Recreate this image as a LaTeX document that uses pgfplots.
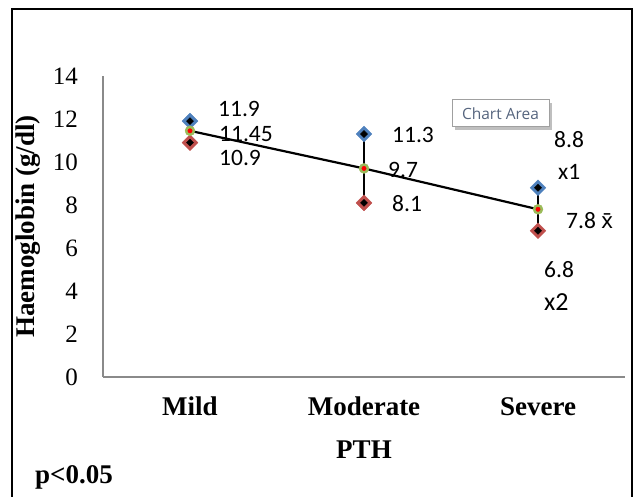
\documentclass[border=0pt]{standalone}
\usepackage{fontspec}
\setmainfont{Liberation Serif}
\newfontfamily\calib{Carlito}
\newfontfamily\segoe{Open Sans}
\newfontfamily\notos{Noto Sans}
\usepackage{pgfplots}
\pgfplotsset{compat=1.18}
\definecolor{xblue}{HTML}{4F81BD}
\definecolor{xred}{HTML}{C0504D}
\definecolor{xgreen}{HTML}{9BBB59}
\definecolor{axgray}{HTML}{8A8A8A}
\definecolor{tipgray}{HTML}{A0A0A0}
\definecolor{tiptext}{HTML}{56657E}
\tikzset{lab/.style={anchor=west, inner sep=0pt, font=\calib\fontsize{23.5}{23.5}\selectfont}}
\begin{document}
\begin{tikzpicture}[x=1pt,y=1pt]
\useasboundingbox (0,0) rectangle (635,497);
% outer chart frame
\draw[black, line width=2.5pt] (12,-5) -- (12,488) -- (632,488) -- (632,-5);
\begin{axis}[
  at={(103pt,120pt)}, anchor=south west,
  scale only axis, width=522pt, height=301pt,
  xmin=-0.5, xmax=2.5, ymin=0, ymax=14,
  xtick={0,1,2}, xticklabels={Mild,Moderate,Severe},
  ytick={0,2,...,14},
  axis lines*=left,
  axis line style={-, draw=axgray, line width=1.6pt},
  major tick length=0pt,
  /pgf/number format/assume math mode=true,
  xticklabel style={font=\fontsize{27}{27}\selectfont\bfseries, anchor=base, yshift=-39pt, inner sep=0pt},
  yticklabel style={font=\fontsize{25}{25}\selectfont, anchor=east, xshift=-25pt, inner sep=0pt},
  xlabel={PTH},
  xlabel style={font=\fontsize{27}{27}\selectfont\bfseries, at={(axis description cs:0.5,-0.2425)}, anchor=center, inner sep=0pt},
  ylabel={Haemoglobin (g/dl)},
  ylabel style={font=\fontsize{27}{27}\selectfont\bfseries, at={(axis description cs:-0.1437,0.5)}, anchor=center, inner sep=0pt},
  clip=false,
]
% high-low lines
\addplot[black, line width=2pt] coordinates {(0,11.9) (0,10.9)};
\addplot[black, line width=2pt] coordinates {(1,11.3) (1,8.1)};
\addplot[black, line width=2pt] coordinates {(2,8.8) (2,6.8)};
% mean line
\addplot[black, line width=2.2pt] coordinates {(0,11.45) (1,9.7) (2,7.8)};
% x1 markers
\addplot[only marks, mark=square*, mark size=5.6pt, mark options={rotate=45, fill=xblue, draw=xblue}] coordinates {(0,11.9) (1,11.3) (2,8.8)};
\addplot[only marks, mark=square*, mark size=2.5pt, mark options={rotate=45, fill=black, draw=black}] coordinates {(0,11.9) (1,11.3) (2,8.8)};
% x2 markers
\addplot[only marks, mark=square*, mark size=5.6pt, mark options={rotate=45, fill=xred, draw=xred}] coordinates {(0,10.9) (1,8.1) (2,6.8)};
\addplot[only marks, mark=square*, mark size=2.5pt, mark options={rotate=45, fill=black, draw=black}] coordinates {(0,10.9) (1,8.1) (2,6.8)};
% mean markers
\addplot[only marks, mark=*, mark size=5pt, mark options={fill=xgreen, draw=xgreen}] coordinates {(0,11.45) (1,9.7) (2,7.8)};
\addplot[only marks, mark=*, mark size=2.2pt, mark options={fill=red, draw=red}] coordinates {(0,11.45) (1,9.7) (2,7.8)};
% data labels
\node[lab, xshift=28pt, yshift=12pt] at (axis cs:0,11.9) {11.9};
\node[lab, xshift=29pt, yshift=-3pt] at (axis cs:0,11.45) {11.45};
\node[lab, xshift=29pt, yshift=-15pt] at (axis cs:0,10.9) {10.9};
\node[lab, xshift=28pt, yshift=-1pt] at (axis cs:1,11.3) {11.3};
\node[lab, xshift=24pt, yshift=-1.5pt] at (axis cs:1,9.7) {9.7};
\node[lab, xshift=28pt, yshift=-1pt] at (axis cs:1,8.1) {8.1};
\node[lab, xshift=16pt, yshift=48pt] at (axis cs:2,8.8) {8.8};
\node[lab, xshift=20pt, yshift=16pt] at (axis cs:2,8.8) {x1};
\node[lab, xshift=28pt, yshift=-11pt] at (axis cs:2,7.8) {7.8 {\notos\fontsize{22}{22}\selectfont x̄}};
\node[lab, xshift=6pt, yshift=-39pt] at (axis cs:2,6.8) {6.8};
\node[lab, xshift=6pt, yshift=-71pt, font=\calib\fontsize{26}{26}\selectfont] at (axis cs:2,6.8) {x2};
\end{axis}
% p-value note
\node[anchor=west, inner sep=0pt, font=\fontsize{27}{27}\selectfont\bfseries] at (35,20) {p<0.05};
% "Chart Area" tooltip
\fill[black!25] (455,367) rectangle (552,394);
\draw[tipgray, fill=white, line width=1pt] (452,370) rectangle (549,397);
\node[inner sep=0pt, text=tiptext, font=\segoe\fontsize{15.5}{15.5}\selectfont] at (500.5,383.5) {Chart Area};
\end{tikzpicture}
\end{document}
